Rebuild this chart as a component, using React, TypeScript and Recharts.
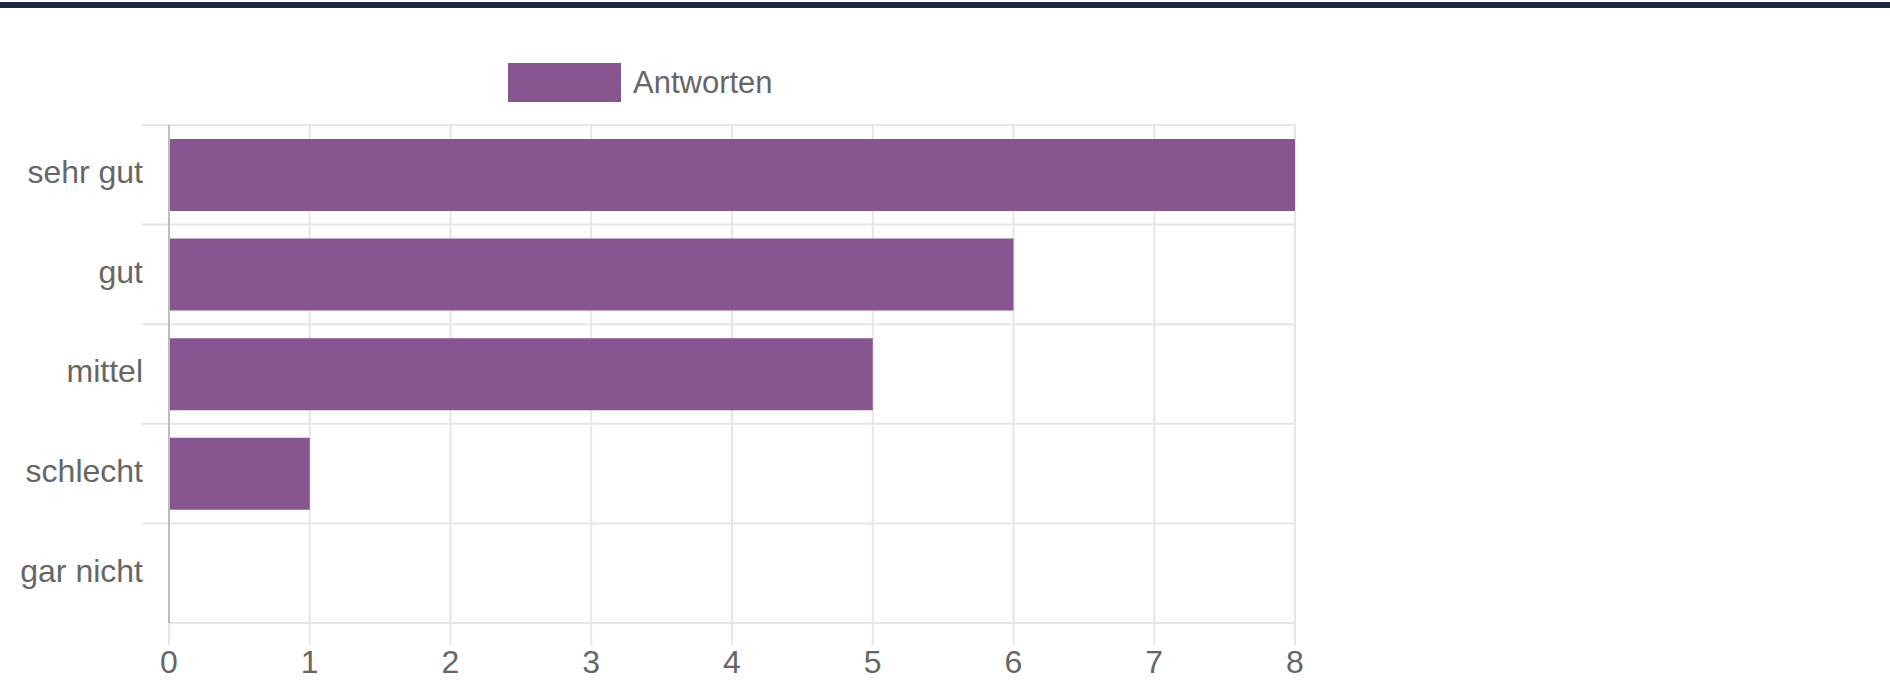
import { BarChart, Bar, XAxis, YAxis, CartesianGrid, Legend } from 'recharts';

const categories = ['sehr gut', 'gut', 'mittel', 'schlecht', 'gar nicht'];
const answers = [8, 6, 5, 1, 0];
const xTicks = [0, 1, 2, 3, 4, 5, 6, 7, 8];
const seriesName = 'Antworten';

const data = categories.map((name, i) => ({ name, value: answers[i] }));

const W = 1890;
const H = 695;
const X_AXIS_H = 72;
const margin = { top: 125, right: 595, bottom: 0, left: 0 };
const plotBottom = H - X_AXIS_H;
const BAR = '#87558f';
const GRID = '#e6e6e6';
const TEXT = '#666';
const FONT = "'Helvetica Neue', Helvetica, Arial, 'Liberation Sans', sans-serif";

// horizontal grid lines sit on the band edges, not the band centres
const bandEdges = ({ offset }: any) =>
    Array.from({ length: categories.length + 1 }, (_, i) => offset.top + (i * offset.height) / categories.length);

const gridRow = (p: any) => (
    <line
        x1={p.y1 >= plotBottom - 1 ? p.x1 : p.x1 - 27}
        x2={p.x2}
        y1={p.y1}
        y2={p.y2}
        stroke={GRID}
        strokeWidth={2}
    />
);

const renderLegend = () => (
    <div style={{ display: 'flex', alignItems: 'center', fontFamily: FONT, fontSize: 31, color: TEXT }}>
        <div style={{ width: 113, height: 39, background: BAR, marginRight: 12 }} />
        <span>{seriesName}</span>
    </div>
);

export default function App() {
    return (
        <div style={{ position: 'absolute', left: 0, top: 0, width: W, height: H, background: '#fff' }}>
            <div style={{ position: 'absolute', left: 0, top: 2, width: W, height: 6, background: '#1c2a3d' }} />
            <BarChart width={W} height={H} data={data} layout='vertical' margin={margin} barCategoryGap='14%'>
                <CartesianGrid
                    stroke={GRID}
                    strokeWidth={2}
                    horizontalCoordinatesGenerator={bandEdges}
                    horizontal={gridRow}
                />
                <XAxis
                    type='number'
                    domain={[0, 8]}
                    ticks={xTicks}
                    height={X_AXIS_H}
                    axisLine={false}
                    tickSize={22}
                    tickMargin={5}
                    tickLine={{ stroke: GRID, strokeWidth: 2 }}
                    tick={{ fill: TEXT, fontSize: 32, fontFamily: FONT }}
                />
                <YAxis
                    type='category'
                    dataKey='name'
                    width={169}
                    axisLine={{ stroke: '#bdbdbd', strokeWidth: 2 }}
                    tickLine={false}
                    tickSize={20}
                    tickMargin={6}
                    tick={{ fill: TEXT, fontSize: 32, fontFamily: FONT, dy: -3 }}
                />
                <Legend
                    layout='horizontal'
                    verticalAlign='middle'
                    align='center'
                    content={renderLegend}
                    wrapperStyle={{ position: 'absolute', top: 63, left: 508, width: 'auto' }}
                />
                <Bar dataKey='value' name={seriesName} fill={BAR} isAnimationActive={false} />
            </BarChart>
        </div>
    );
}
